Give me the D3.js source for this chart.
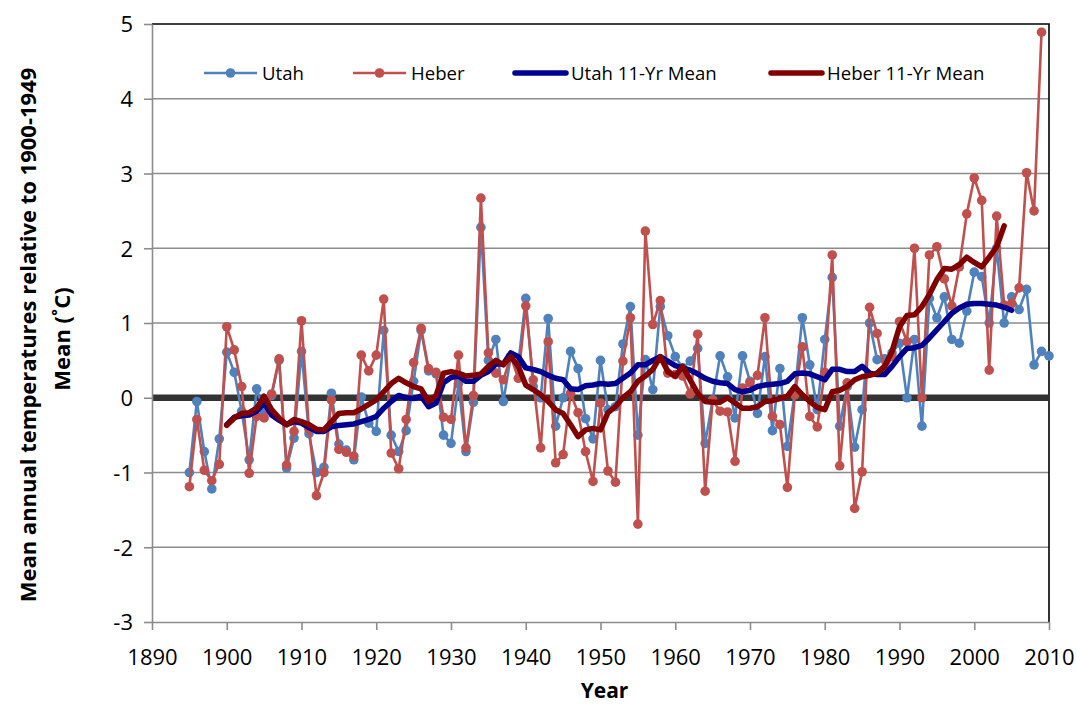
<!DOCTYPE html>
<html>
<head>
<meta charset="utf-8">
<script src="https://cdn.jsdelivr.net/npm/d3@7"></script>
<style>
  html, body { margin: 0; padding: 0; background: #fff; }
  svg { display: block; font-family: "Open Sans", "Noto Sans", sans-serif; }
</style>
</head>
<body>
<svg id="chart" width="1077" height="705"></svg>
<script>
// Annual temperature anomalies (°C, relative to the 1900-1949 mean)
const utahYears = d3.range(1895, 2011);
const utahValues = [
  -1.00, -0.05, -0.72, -1.22, -0.55,
   0.61,  0.34, -0.18, -0.83,  0.12, -0.18,  0.03,  0.50, -0.94, -0.54,
   0.62, -0.48, -1.00, -0.93,  0.06, -0.62, -0.70, -0.83,  0.01, -0.34,
  -0.45,  0.90, -0.50, -0.72, -0.44,  0.22,  0.90,  0.36,  0.32, -0.50,
  -0.61,  0.19, -0.72, -0.06,  2.28,  0.50,  0.78, -0.05,  0.55,  0.45,
   1.33,  0.15,  0.00,  1.06, -0.38,  0.00,  0.62,  0.39, -0.28, -0.55,
   0.50, -0.16, -0.12,  0.72,  1.22, -0.50,  0.51,  0.11,  1.22,  0.83,
   0.55,  0.40,  0.49,  0.66, -0.61, -0.03,  0.56,  0.28, -0.27,  0.56,
   0.22, -0.21,  0.55, -0.44,  0.39, -0.65,  0.08,  1.07,  0.44, -0.16,
   0.78,  1.61, -0.38,  0.15, -0.66, -0.16,  1.00,  0.51,  0.52,  0.60,
   0.73,  0.00,  0.78, -0.38,  1.33,  1.07,  1.35,  0.78,  0.73,  1.16,
   1.68,  1.62,  1.00,  2.00,  1.00,  1.35,  1.18,  1.45,  0.44,  0.62,
   0.56
];

const heberYears = d3.range(1895, 2010);
const heberValues = [
  -1.19, -0.29, -0.97, -1.11, -0.89,
   0.95,  0.64,  0.15, -1.01, -0.25, -0.27,  0.05,  0.52, -0.90, -0.45,
   1.03, -0.42, -1.31, -1.00, -0.03, -0.69, -0.73, -0.78,  0.57,  0.36,
   0.57,  1.32, -0.74, -0.95, -0.29,  0.47,  0.93,  0.39,  0.34, -0.26,
  -0.29,  0.57, -0.67,  0.03,  2.67,  0.60,  0.33,  0.24,  0.55,  0.26,
   1.23,  0.24, -0.67,  0.75, -0.87, -0.76,  0.06, -0.20, -0.72, -1.12,
  -0.07, -0.98, -1.13,  0.49,  1.07, -1.69,  2.23,  0.98,  1.30,  0.33,
   0.31,  0.29,  0.05,  0.85, -1.25, -0.03, -0.18, -0.19, -0.85,  0.13,
   0.20,  0.30,  1.07, -0.25, -0.36, -1.20,  0.04,  0.68, -0.25, -0.39,
   0.34,  1.91, -0.91,  0.20, -1.48, -0.99,  1.21,  0.86,  0.35,  0.55,
   1.02,  0.75,  2.00,  0.00,  1.91,  2.02,  1.59,  1.23,  1.75,  2.46,
   2.94,  2.64,  0.37,  2.43,  1.24,  1.26,  1.47,  3.01,  2.50,  4.89
];

// 11-year running means
const utahMeanYears = d3.range(1900, 2006);
const utahMeanValues = [
  -0.36, -0.26, -0.24, -0.23, -0.18, -0.07, -0.23, -0.30, -0.36, -0.32,
  -0.34, -0.40, -0.45, -0.45, -0.39, -0.37, -0.36, -0.35, -0.32, -0.29,
  -0.25, -0.14, -0.05,  0.03,  0.00, -0.01,  0.02, -0.12, -0.07,  0.20,
   0.27,  0.29,  0.22,  0.22,  0.30,  0.35,  0.45,  0.45,  0.60,  0.55,
   0.40,  0.38,  0.35,  0.30,  0.26,  0.24,  0.12,  0.11,  0.16,  0.17,
   0.19,  0.18,  0.19,  0.26,  0.33,  0.44,  0.44,  0.50,  0.55,  0.49,
   0.43,  0.40,  0.37,  0.32,  0.26,  0.22,  0.20,  0.19,  0.11,  0.08,
   0.10,  0.15,  0.17,  0.18,  0.19,  0.22,  0.32,  0.33,  0.32,  0.28,
   0.24,  0.38,  0.38,  0.35,  0.35,  0.42,  0.33,  0.31,  0.31,  0.42,
   0.55,  0.66,  0.67,  0.70,  0.80,  0.91,  1.02,  1.13,  1.20,  1.25,
   1.26,  1.26,  1.25,  1.24,  1.21,  1.17
];

const heberMeanYears = d3.range(1900, 2005);
const heberMeanValues = [
  -0.37, -0.27, -0.21, -0.20, -0.14,  0.02, -0.16, -0.27, -0.36, -0.29,
  -0.32, -0.36, -0.42, -0.43, -0.32, -0.21, -0.20, -0.20, -0.15, -0.09,
  -0.03,  0.08,  0.19,  0.26,  0.20,  0.15,  0.12, -0.05,  0.03,  0.33,
   0.35,  0.33,  0.29,  0.30,  0.32,  0.42,  0.50,  0.44,  0.55,  0.42,
   0.17,  0.11,  0.04, -0.05, -0.16, -0.21, -0.36, -0.52, -0.43, -0.41,
  -0.43, -0.20, -0.12,  0.00,  0.08,  0.22,  0.29,  0.38,  0.55,  0.35,
   0.29,  0.42,  0.24,  0.06, -0.05, -0.06, -0.06,  0.00, -0.07, -0.14,
  -0.14, -0.12, -0.05, -0.04, -0.01,  0.02,  0.15,  0.04, -0.05, -0.13,
  -0.16,  0.08,  0.10,  0.15,  0.24,  0.28,  0.30,  0.33,  0.42,  0.62,
   0.95,  1.10,  1.11,  1.22,  1.38,  1.58,  1.73,  1.72,  1.78,  1.88,
   1.81,  1.75,  1.88,  2.02,  2.30
];

const xTicks = [1890, 1900, 1910, 1920, 1930, 1940, 1950, 1960, 1970, 1980, 1990, 2000, 2010];
const yTicks = [-3, -2, -1, 0, 1, 2, 3, 4, 5];

const legendLabels = ["Utah", "Heber", "Utah 11-Yr Mean", "Heber 11-Yr Mean"];
const seriesColors = ["#4F81BD", "#C0504D", "#000090", "#800000"];

const svg = d3.select("#chart");
const plot = { left: 152, right: 1049, top: 24, bottom: 622 };

const x = d3.scaleLinear().domain([1890, 2010]).range([plot.left, plot.right]);
const y = d3.scaleLinear().domain([-3, 5]).range([plot.bottom, plot.top]);

// horizontal gridlines
svg.append("g")
  .selectAll("line")
  .data(yTicks.filter(v => v !== 0 && v !== -3 && v !== 5))
  .join("line")
  .attr("x1", plot.left).attr("x2", plot.right)
  .attr("y1", d => y(d)).attr("y2", d => y(d))
  .attr("stroke", "#8C8C8C").attr("stroke-width", 1.6);

// plot frame (top and right edges)
svg.append("path")
  .attr("d", `M${plot.left},${y(5)}H${plot.right}V${plot.bottom}`)
  .attr("fill", "none").attr("stroke", "#000").attr("stroke-width", 1.6);

// heavy zero reference line
svg.append("line")
  .attr("x1", plot.left).attr("x2", plot.right)
  .attr("y1", y(0)).attr("y2", y(0))
  .attr("stroke", "#333333").attr("stroke-width", 6.5);

// axes
const xAxis = svg.append("g")
  .attr("transform", `translate(0,${plot.bottom})`)
  .call(d3.axisBottom(x).tickValues(xTicks).tickFormat(d3.format("d")).tickSize(8).tickSizeOuter(0));
const yAxis = svg.append("g")
  .attr("transform", `translate(${plot.left},0)`)
  .call(d3.axisLeft(y).tickValues(yTicks).tickFormat(d3.format("d")).tickSize(8).tickSizeOuter(0));

[xAxis, yAxis].forEach(g => {
  g.select(".domain").attr("stroke", "#8C8C8C").attr("stroke-width", 1.6);
  g.selectAll(".tick line").attr("stroke", "#8C8C8C").attr("stroke-width", 1.6);
  g.selectAll(".tick text")
    .attr("fill", "#000")
    .style("font-family", "'Open Sans', sans-serif")
    .style("font-size", "22px");
});
xAxis.selectAll(".tick text").attr("dy", null).attr("y", 43);
yAxis.selectAll(".tick text").attr("x", -19).attr("dy", "0.36em");
yAxis.selectAll(".tick text").text(d => d < 0 ? "-" + Math.abs(d) : d);

// series drawing
const line = d3.line().x(d => x(d[0])).y(d => y(d[1]));

function drawMarkedSeries(years, values, color) {
  const pts = years.map((yr, i) => [yr, values[i]]);
  const g = svg.append("g");
  g.append("path").datum(pts)
    .attr("d", line).attr("fill", "none")
    .attr("stroke", color).attr("stroke-width", 2.6).attr("stroke-linejoin", "round");
  g.selectAll("circle").data(pts).join("circle")
    .attr("cx", d => x(d[0])).attr("cy", d => y(d[1])).attr("r", 4.8)
    .attr("fill", color);
}

function drawMeanSeries(years, values, color) {
  const pts = years.map((yr, i) => [yr, values[i]]);
  svg.append("path").datum(pts)
    .attr("d", line).attr("fill", "none")
    .attr("stroke", color).attr("stroke-width", 5.5)
    .attr("stroke-linejoin", "round").attr("stroke-linecap", "round");
}

drawMarkedSeries(utahYears, utahValues, seriesColors[0]);
drawMarkedSeries(heberYears, heberValues, seriesColors[1]);
drawMeanSeries(utahMeanYears, utahMeanValues, seriesColors[2]);
drawMeanSeries(heberMeanYears, heberMeanValues, seriesColors[3]);

// legend
const legendX = [204, 353, 513, 769];
const legendY = 73;
const legend = svg.append("g");
legendLabels.forEach((label, i) => {
  const x0 = legendX[i];
  const g = legend.append("g");
  if (i < 2) {
    g.append("line").attr("x1", x0).attr("x2", x0 + 53)
      .attr("y1", legendY).attr("y2", legendY)
      .attr("stroke", seriesColors[i]).attr("stroke-width", 2.6);
    g.append("circle").attr("cx", x0 + 26.5).attr("cy", legendY).attr("r", 4.8)
      .attr("fill", seriesColors[i]);
  } else {
    g.append("line").attr("x1", x0 + 2).attr("x2", x0 + 53)
      .attr("y1", legendY).attr("y2", legendY)
      .attr("stroke", seriesColors[i]).attr("stroke-width", 5.5)
      .attr("stroke-linecap", "round");
  }
  g.append("text").attr("x", x0 + 58).attr("y", legendY).attr("dy", "0.36em")
    .style("font-size", "18.6px").attr("fill", "#000").text(label);
});

// axis titles
svg.append("text")
  .attr("x", (plot.left + plot.right) / 2 + 4).attr("y", 698)
  .attr("text-anchor", "middle")
  .style("font-size", "21px").style("font-weight", "bold")
  .text("Year");

const yTitle = svg.append("text")
  .attr("transform", `translate(0,${(plot.top + plot.bottom) / 2 + 12}) rotate(-90)`)
  .attr("text-anchor", "middle")
  .style("font-size", "22px").style("font-weight", "bold");
yTitle.append("tspan").attr("x", 0).attr("y", 36)
  .text("Mean annual temperatures relative to 1900-1949");
yTitle.append("tspan").attr("x", -4).attr("y", 70)
  .text("Mean (˚C)");
</script>
</body>
</html>
